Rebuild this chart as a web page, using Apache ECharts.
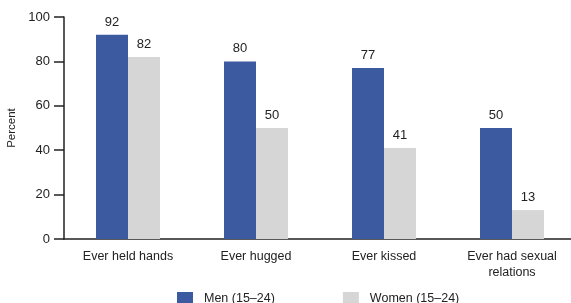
<!DOCTYPE html>
<html>
<head>
    <meta charset="utf-8">
    <title>ECharts</title>
    <script src="https://cdn.jsdelivr.net/npm/echarts@6/dist/echarts.min.js"></script>
</head>
<body style="margin:0">
    <div id="main" style="width: 571px;height:303px;"></div>
    <script type="text/javascript">
        var categories = ['Ever held hands', 'Ever hugged', 'Ever kissed', 'Ever had sexual\nrelations'];
        var seriesNames = ['Men (15\u201324)', 'Women (15\u201324)'];
        var menValues = [92, 80, 77, 50];
        var womenValues = [82, 50, 41, 13];
        var yTicks = { min: 0, max: 100, interval: 20 };

        var font = 'Liberation Sans';
        var textColor = '#222';
        var myChart = echarts.init(document.getElementById('main'));

        var option = {
            animation: false,
            textStyle: { fontFamily: font },
            grid: { left: 64, right: -5, top: 17, bottom: 64, outerBoundsMode: 'none', containLabel: false },
            legend: {
                bottom: -8,
                left: 172,
                itemWidth: 16,
                itemHeight: 14,
                itemGap: 68,
                icon: 'rect',
                textStyle: { fontFamily: font, fontSize: 12.5, color: textColor, padding: [0, 0, 0, 6] },
                data: seriesNames
            },
            xAxis: {
                type: 'category',
                data: categories,
                axisLine: { lineStyle: { color: '#222', width: 1.5 } },
                axisTick: { length: 9, lineStyle: { color: '#222', width: 1.5 } },
                axisLabel: { color: textColor, fontSize: 12.5, margin: 10, lineHeight: 16, fontFamily: font }
            },
            yAxis: {
                type: 'value',
                min: yTicks.min,
                max: yTicks.max,
                interval: yTicks.interval,
                name: 'Percent',
                nameLocation: 'middle',
                nameGap: 42,
                nameTextStyle: { color: textColor, fontSize: 11.5, fontFamily: font },
                splitLine: { show: false },
                axisLine: { show: true, lineStyle: { color: '#222', width: 1.5 } },
                axisTick: { show: true, inside: false, length: 10, lineStyle: { color: '#222', width: 1.5 } },
                axisLabel: { color: textColor, fontSize: 13, margin: 14, fontFamily: font }
            },
            series: [{
                name: seriesNames[0],
                type: 'bar',
                data: menValues,
                barGap: '0%',
                barCategoryGap: '50%',
                itemStyle: { color: '#3c5aa0' },
                label: { show: true, position: 'top', distance: 6, color: textColor, fontSize: 13, fontFamily: font }
            }, {
                name: seriesNames[1],
                type: 'bar',
                data: womenValues,
                barGap: '0%',
                barCategoryGap: '50%',
                itemStyle: { color: '#d6d6d6' },
                label: { show: true, position: 'top', distance: 6, color: textColor, fontSize: 13, fontFamily: font }
            }]
        };

        myChart.setOption(option);
    </script>
</body>
</html>
